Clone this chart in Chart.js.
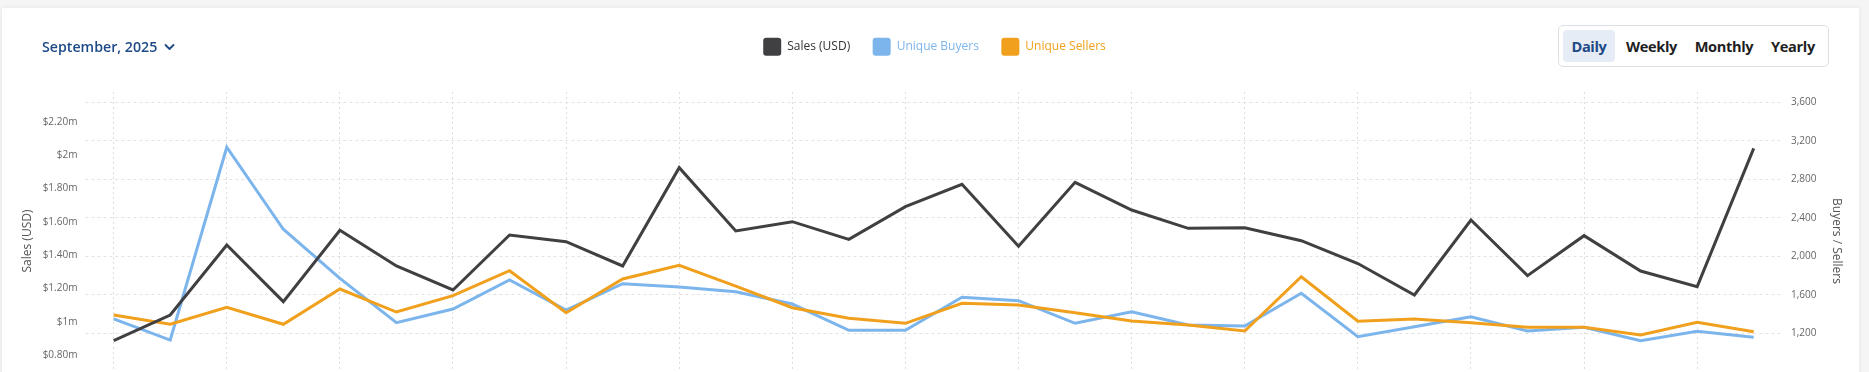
<!DOCTYPE html>
<html>
<head>
<meta charset="utf-8">
<script src="https://cdn.jsdelivr.net/npm/chart.js@4.4.1/dist/chart.umd.min.js"></script>
<style>
  html, body { margin:0; padding:0; width:1869px; height:372px; overflow:hidden; background:#f5f5f6; font-family:'Open Sans', sans-serif; }
  #card { position:absolute; left:2px; top:8px; width:1857px; height:440px; background:#fff; box-shadow:0 0 5px rgba(0,0,0,0.07); }
  #wrap { position:absolute; left:0; top:0; width:1859px; height:440px; z-index:1; }
  #month { position:absolute; left:42px; top:35.5px; font-size:14.2px; font-weight:600; color:#1d4a87; line-height:22px; white-space:nowrap; z-index:2; display:flex; align-items:center; }
  #month svg { margin-left:7px; }
  #periods { position:absolute; left:1558px; top:25px; width:261px; height:32px; border:1px solid #dcdfe4; border-radius:5px; padding:4px; z-index:2; background:#fff; }
  #periods span { position:absolute; top:4px; display:block; height:32px; line-height:32px; text-align:center; font-size:14.6px; font-weight:700; color:#1f1f1f; border-radius:4px; letter-spacing:-0.35px; }
  #periods span.active { background:#e6ecf5; color:#1d4a87; }
</style>
</head>
<body>
<div id="card"></div>
<div id="month">September, 2025
  <svg width="11" height="8" viewBox="0 0 11 8"><polyline points="1.5,2 5.5,6 9.5,2" fill="none" stroke="#1d4a87" stroke-width="1.8" stroke-linecap="round" stroke-linejoin="round"/></svg>
</div>
<div id="periods">
  <span class="active" style="left:4px;width:52px">Daily</span>
  <span style="left:59.5px;width:66px">Weekly</span>
  <span style="left:128.5px;width:73px">Monthly</span>
  <span style="left:204.5px;width:59px">Yearly</span>
</div>
<div id="wrap"><canvas id="c"></canvas></div>
<script>
// ---- data ----
const days = ['Sep 1','Sep 2','Sep 3','Sep 4','Sep 5','Sep 6','Sep 7','Sep 8','Sep 9','Sep 10',
  'Sep 11','Sep 12','Sep 13','Sep 14','Sep 15','Sep 16','Sep 17','Sep 18','Sep 19','Sep 20',
  'Sep 21','Sep 22','Sep 23','Sep 24','Sep 25','Sep 26','Sep 27','Sep 28','Sep 29','Sep 30'];
const salesUSD = [886000, 1040000, 1460000, 1120000, 1548000, 1334000, 1190000, 1520000, 1480000, 1334000,
  1924000, 1544000, 1600000, 1494000, 1690000, 1824000, 1452000, 1836000, 1670000, 1560000,
  1564000, 1486000, 1349000, 1160000, 1610000, 1276000, 1516000, 1304000, 1210000, 2040000];
const uniqueBuyers = [1349, 1130, 3133, 2281, 1771, 1310, 1452, 1754, 1442, 1715,
  1681, 1632, 1504, 1231, 1231, 1574, 1539, 1304, 1424, 1286,
  1276, 1616, 1165, 1269, 1372, 1224, 1262, 1123, 1221, 1158];
const uniqueSellers = [1390, 1294, 1470, 1294, 1660, 1421, 1591, 1850, 1414, 1764,
  1907, 1691, 1466, 1356, 1304, 1512, 1494, 1414, 1328, 1286,
  1224, 1788, 1325, 1349, 1310, 1262, 1262, 1182, 1314, 1217];
const salesTicks = [800000, 1000000, 1200000, 1400000, 1600000, 1800000, 2000000, 2200000];
const countTicks = [1200, 1600, 2000, 2400, 2800, 3200, 3600];
const seriesNames = ['Sales (USD)', 'Unique Buyers', 'Unique Sellers'];

// ---- styles ----
const colSales = '#404043', colBuyers = '#7cb5ec', colSellers = '#f0a01c';
const legendTextColors = ['#333333', colBuyers, colSellers];

Chart.defaults.font.family = "'Open Sans', sans-serif";

const legendGap = {
  id: 'legendGap',
  beforeInit(chart) {
    const origFit = chart.legend.fit;
    chart.legend.fit = function () { origFit.call(this); this.height += 26.3; };
  }
};

function fmtSales(v) {
  const m = Math.round(v / 1e4) / 100;
  return '$' + (Number.isInteger(m) ? m : m.toFixed(2)) + 'm';
}

new Chart(document.getElementById('c'), {
  type: 'line',
  data: {
    labels: days,
    datasets: [
      { label: seriesNames[0], data: salesUSD, yAxisID: 'ySales', borderColor: colSales, backgroundColor: colSales, order: 0 },
      { label: seriesNames[1], data: uniqueBuyers, yAxisID: 'yCount', borderColor: colBuyers, backgroundColor: colBuyers, order: 2 },
      { label: seriesNames[2], data: uniqueSellers, yAxisID: 'yCount', borderColor: colSellers, backgroundColor: colSellers, order: 1 }
    ]
  },
  options: {
    responsive: true,
    maintainAspectRatio: false,
    animation: false,
    layout: { padding: { top: 15.2, left: 10, right: 0, bottom: 0 } },
    elements: { line: { borderWidth: 3, tension: 0 }, point: { radius: 0, hoverRadius: 0 } },
    plugins: {
      tooltip: { enabled: false },
      legend: {
        position: 'top',
        labels: {
          boxWidth: 18, boxHeight: 18, padding: 22.5, useBorderRadius: true, borderRadius: 3,
          font: { size: 12 },
          sort: (a, b) => a.datasetIndex - b.datasetIndex,
          generateLabels(chart) {
            const items = Chart.defaults.plugins.legend.labels.generateLabels(chart);
            items.forEach(it => { it.fontColor = legendTextColors[it.datasetIndex]; it.lineWidth = 0; it.strokeStyle = 'rgba(0,0,0,0)'; });
            return items;
          }
        }
      }
    },
    scales: {
      x: {
        offset: true,
        grid: { color: '#dddddd', drawTicks: true, tickLength: 8 },
        border: { display: false, dash: [2, 3] },
        ticks: { autoSkip: true, maxTicksLimit: 15, maxRotation: 0, color: '#666', font: { size: 10 } },
        afterFit(s) { s.height = 50; }
      },
      ySales: {
        position: 'left',
        min: 590000, max: 2378000,
        grid: { display: false, drawTicks: false },
        border: { display: false },
        afterBuildTicks(s) { s.ticks = salesTicks.map(v => ({ value: v })); },
        ticks: { padding: 8, color: '#666', font: { size: 10 }, callback: v => fmtSales(v) },
        title: { display: true, text: seriesNames[0], color: '#555', font: { size: 12 }, padding: { top: 10.3, bottom: 0 } },
        afterFit(s) { s.width = 75.4; }
      },
      yCount: {
        position: 'right',
        min: 611, max: 3707,
        grid: { color: '#e2e2e2', drawTicks: false },
        border: { display: false, dash: [3, 3] },
        afterBuildTicks(s) { s.ticks = countTicks.map(v => ({ value: v })); },
        ticks: { padding: 9, color: '#666', font: { size: 10 }, callback: v => v.toLocaleString('en-US') },
        title: { display: true, text: 'Buyers / Sellers', color: '#555', font: { size: 12 }, padding: { top: 15.8, bottom: 0 } },
        afterFit(s) { s.width = 77; }
      }
    }
  },
  plugins: [legendGap]
});
</script>
</body>
</html>
